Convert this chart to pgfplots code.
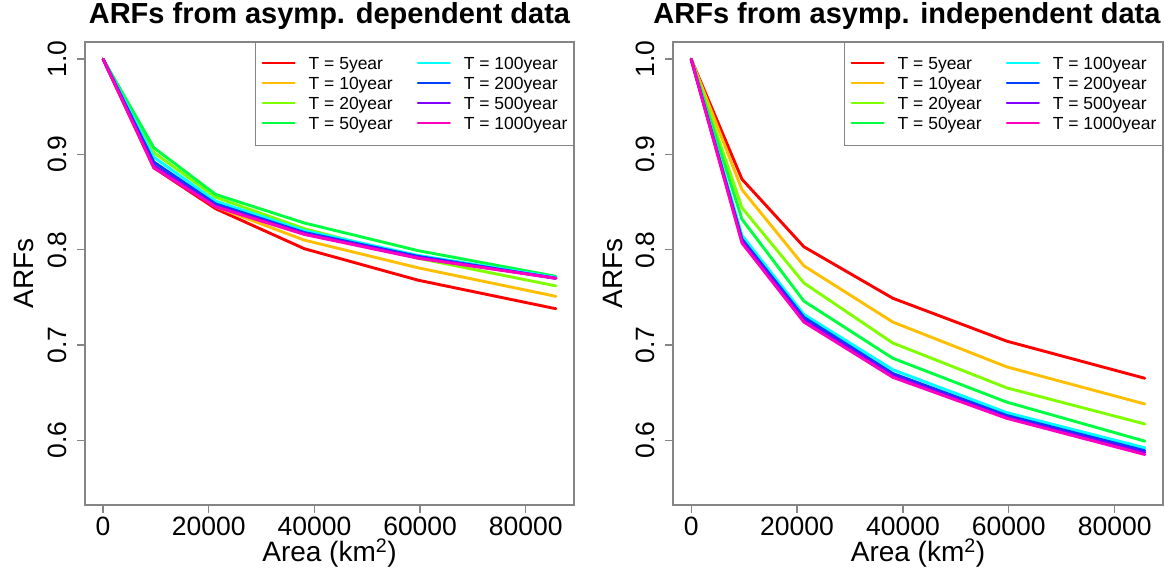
\documentclass[border=0pt]{standalone}
\usepackage{pgfplots}
\usepackage{pgfplotstable}
\pgfplotsset{compat=1.18}
\usepackage{fontspec}
\setmainfont{Liberation Sans}
\definecolor{c1}{HTML}{FF0000}
\definecolor{c2}{HTML}{FFBF00}
\definecolor{c3}{HTML}{80FF00}
\definecolor{c4}{HTML}{00FF40}
\definecolor{c5}{HTML}{00FFFF}
\definecolor{c6}{HTML}{0040FF}
\definecolor{c7}{HTML}{8000FF}
\definecolor{c8}{HTML}{FF00BF}
\definecolor{frame}{HTML}{858585}

\pgfplotstableread{
x     t5    t10   t20   t50   t100  t200  t500  t1000
0     1.000 1.000 1.000 1.000 1.000 1.000 1.000 1.000
9600  0.886 0.889 0.902 0.907 0.897 0.892 0.888 0.886
21300 0.843 0.845 0.855 0.858 0.851 0.848 0.846 0.845
38100 0.801 0.810 0.822 0.828 0.820 0.818 0.817 0.816
59600 0.768 0.781 0.791 0.799 0.794 0.793 0.792 0.791
85700 0.738 0.751 0.762 0.772 0.771 0.770 0.770 0.770
}\leftdata

\pgfplotstableread{
x     t5    t10   t20   t50   t100  t200  t500  t1000
0     1.000 1.000 1.000 1.000 1.000 1.000 1.000 1.000
9600  0.874 0.863 0.844 0.832 0.815 0.811 0.809 0.807
21300 0.803 0.783 0.765 0.746 0.732 0.729 0.726 0.724
38100 0.749 0.724 0.702 0.686 0.674 0.670 0.668 0.666
59600 0.704 0.677 0.655 0.640 0.629 0.626 0.624 0.623
85700 0.665 0.638 0.617 0.599 0.592 0.589 0.587 0.585
}\rightdata

\pgfplotsset{
  arf/.style={
    scale only axis, width=489pt, height=463pt,
    xmin=-3428, xmax=89128, ymin=0.532, ymax=1.018,
    xtick={0,20000,40000,60000,80000},
    xticklabels={0,20000,40000,60000,80000},
    scaled x ticks=false, scaled y ticks=false,
    ytick={0.6,0.7,0.8,0.9,1.0},
    yticklabels={0.6,0.7,0.8,0.9,1.0},
    tick align=outside, major tick length=8pt,
    xtick pos=lower, ytick pos=left,
    axis line style={draw=frame, line width=1.3pt},
    tick style={draw=frame, line width=1.3pt},
    ticklabel style={font=\fontsize{26.5}{30}\selectfont, inner sep=0pt},
    xticklabel style={anchor=north},
    xticklabel shift=4pt,
    yticklabel style={rotate=90, anchor=south},
    yticklabel shift=10pt,
    title style={at={(axis description cs:0.5,1)}, anchor=base, yshift=12pt,
      font=\bfseries\fontsize{29}{33}\selectfont, inner sep=0pt},
    xlabel style={at={(axis description cs:0.5,0)}, anchor=base, yshift=-57pt,
      font=\fontsize{28}{32}\selectfont, inner sep=0pt},
    ylabel style={at={(axis description cs:0,0.5)}, anchor=base, yshift=51pt,
      font=\fontsize{28}{32}\selectfont, inner sep=0pt},
    xlabel={Area (km\textsuperscript{2})},
    ylabel={ARFs},
    every axis plot/.append style={line width=2.9pt, line join=round, line cap=round},
    legend image code/.code={\draw[#1, line width=2pt] (0pt,6pt) -- (32pt,6pt);},
    legend columns=4, transpose legend,
    legend style={at={(1,1)}, anchor=north east, draw=frame, line width=1.2pt,
      inner xsep=6pt, inner ysep=13.5pt,
      font=\fontsize{17.5}{20}\selectfont,
      nodes={inner sep=0pt, text height=13pt, text depth=3pt, anchor=base west},
      row sep=4pt, column sep=13pt,
      /tikz/every even column/.append style={column sep=24pt}},
  }
}

\begin{document}
\begin{tikzpicture}
\useasboundingbox (0,0) rectangle (1165pt,570pt);
\begin{axis}[arf, at={(85pt,65pt)}, anchor=south west,
  title={ARFs from asymp. dependent data}]
\addplot[c1] table[x=x,y=t5]{\leftdata};\addlegendentry{T = 5year}
\addplot[c2] table[x=x,y=t10]{\leftdata};\addlegendentry{T = 10year}
\addplot[c3] table[x=x,y=t20]{\leftdata};\addlegendentry{T = 20year}
\addplot[c4] table[x=x,y=t50]{\leftdata};\addlegendentry{T = 50year}
\addplot[c5] table[x=x,y=t100]{\leftdata};\addlegendentry{T = 100year}
\addplot[c6] table[x=x,y=t200]{\leftdata};\addlegendentry{T = 200year}
\addplot[c7] table[x=x,y=t500]{\leftdata};\addlegendentry{T = 500year}
\addplot[c8] table[x=x,y=t1000]{\leftdata};\addlegendentry{T = 1000year}
\end{axis}
\begin{axis}[arf, at={(673pt,65pt)}, anchor=south west, width=490pt,
  title style={xshift=-11pt},
  title={ARFs from asymp. independent data}]
\addplot[c1] table[x=x,y=t5]{\rightdata};\addlegendentry{T = 5year}
\addplot[c2] table[x=x,y=t10]{\rightdata};\addlegendentry{T = 10year}
\addplot[c3] table[x=x,y=t20]{\rightdata};\addlegendentry{T = 20year}
\addplot[c4] table[x=x,y=t50]{\rightdata};\addlegendentry{T = 50year}
\addplot[c5] table[x=x,y=t100]{\rightdata};\addlegendentry{T = 100year}
\addplot[c6] table[x=x,y=t200]{\rightdata};\addlegendentry{T = 200year}
\addplot[c7] table[x=x,y=t500]{\rightdata};\addlegendentry{T = 500year}
\addplot[c8] table[x=x,y=t1000]{\rightdata};\addlegendentry{T = 1000year}
\end{axis}
\end{tikzpicture}
\end{document}
